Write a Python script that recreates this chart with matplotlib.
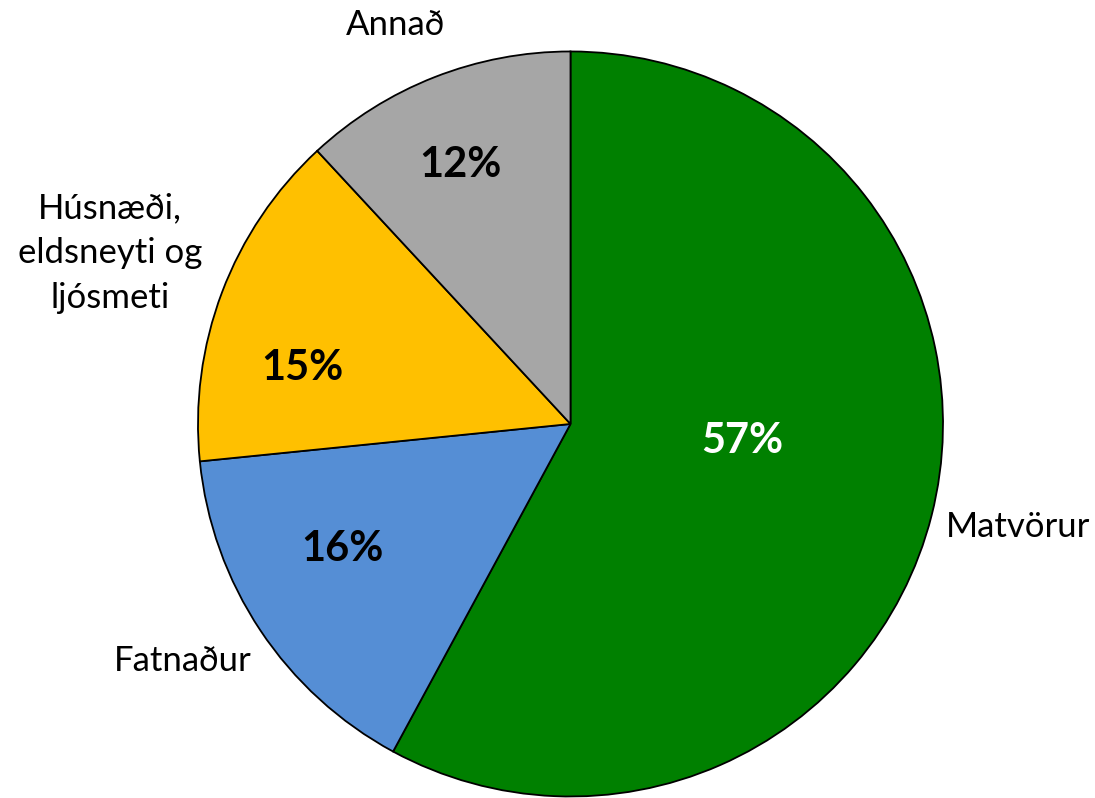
import numpy as np
import matplotlib.pyplot as plt

plt.rcParams['font.family'] = ['Lato', 'DejaVu Sans']

# data (shares, labels as printed)
categories = ['Matvörur', 'Fatnaður', 'Húsnæði,\neldsneyti og\nljósmeti', 'Annað']
shares = [57.9, 15.5, 14.7, 11.9]
pct_labels = ['57%', '16%', '15%', '12%']
colors = ['#008000', '#558ED5', '#FFC000', '#A6A6A6']
pct_colors = ['white', 'black', 'black', 'black']

# label placement (fraction of radius, degrees offset from wedge middle)
label_dist = [1.233, 1.219, 1.318, 1.170]
label_shift = [1.2, -2.2, 0.35, 2.3]
pct_dist = [0.463, 0.699, 0.736, 0.755]
pct_shift = [8.5, -4.95, 8.95, 1.5]

fig = plt.figure(figsize=(10.95, 7.98), dpi=100)
ax = fig.add_axes([0.1808, 0.0019, 0.6804, 0.9336])

wedges, _ = ax.pie(shares, colors=colors, startangle=90, counterclock=False,
                   wedgeprops=dict(edgecolor='black', linewidth=1.3))

for i, w in enumerate(wedges):
    mid = (w.theta1 + w.theta2) / 2
    a = np.deg2rad(mid + label_shift[i])
    ax.text(label_dist[i] * np.cos(a), label_dist[i] * np.sin(a), categories[i],
            ha='center', va='center', fontsize=25, linespacing=1.5)
    b = np.deg2rad(mid + pct_shift[i])
    ax.text(pct_dist[i] * np.cos(b), pct_dist[i] * np.sin(b), pct_labels[i],
            ha='center', va='center', fontsize=30, fontweight='bold',
            color=pct_colors[i])

ax.set_xlim(-1, 1)
ax.set_ylim(-1, 1)
ax.set_aspect('equal')
ax.axis('off')

fig.savefig('out.png', dpi=100)
